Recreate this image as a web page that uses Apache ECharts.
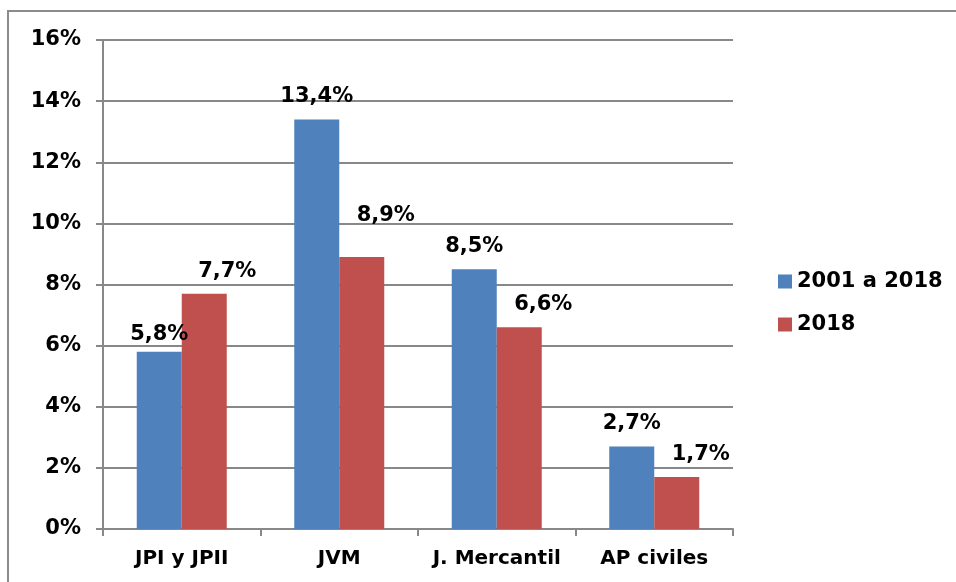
<!DOCTYPE html>
<html lang="es">
<head>
  <meta charset="UTF-8">
  <title>Chart</title>
  <style type="text/css">
    html, body { margin: 0; padding: 0; background: #fff; }
    #chart { width: 956px; height: 582px; }
  </style>
</head>
<body>
  <div id="chart"></div>
  <script src="https://cdn.jsdelivr.net/npm/echarts@6/dist/echarts.min.js"></script>
  <script>
    const categories = ['JPI y JPII', 'JVM', 'J. Mercantil', 'AP civiles']
    const seriesNames = ['2001 a 2018', '2018']
    const values2001to2018 = [5.8, 13.4, 8.5, 2.7]
    const values2018 = [7.7, 8.9, 6.6, 1.7]
    const yTicks = [0, 2, 4, 6, 8, 10, 12, 14, 16]

    const font = 'DejaVu Sans'
    const fmt = v => String(v).replace('.', ',') + '%'

    // label nudges seen in the original
    const blueOffsets = [[0, 5], [0, 0], [0, 0], [0, 0]]
    const redOffsets = [[23, 0], [24, -19], [24, 0], [24, 0]]

    const chart = echarts.init(document.getElementById('chart'))

    const labelStyle = {
      show: true, position: 'top', distance: 12,
      color: '#000', fontWeight: 'bold', fontSize: 21, fontFamily: font,
      formatter: p => fmt(p.value)
    }

    chart.setOption({
      animation: false,
      textStyle: { fontFamily: font },
      graphic: [{
        type: 'rect',
        shape: { x: 8, y: 11, width: 1000, height: 700 },
        style: { fill: 'none', stroke: '#8c8c8c', lineWidth: 2 },
        silent: true
      }],
      grid: { left: 103, right: 223, top: 40, bottom: 53 },
      legend: {
        orient: 'vertical',
        left: 773,
        top: 266,
        itemWidth: 14,
        itemHeight: 14,
        itemGap: 22,
        icon: 'rect',
        textStyle: { fontFamily: font, fontWeight: 'bold', fontSize: 21, color: '#000' },
        data: seriesNames
      },
      xAxis: {
        type: 'category',
        data: categories,
        axisLine: { lineStyle: { color: '#888', width: 2 } },
        axisTick: { show: true, length: 7, lineStyle: { color: '#888', width: 2 } },
        axisLabel: { interval: 0, margin: 20, color: '#000', fontWeight: 'bold', fontSize: 20, fontFamily: font }
      },
      yAxis: {
        type: 'value',
        min: yTicks[0],
        max: yTicks[yTicks.length - 1],
        interval: 2,
        axisLine: { show: true, lineStyle: { color: '#888', width: 2 } },
        axisTick: { show: true, length: 7, lineStyle: { color: '#888', width: 2 } },
        splitLine: { lineStyle: { color: '#888', width: 2 } },
        axisLabel: {
          margin: 22, color: '#000', fontWeight: 'bold', fontSize: 21, fontFamily: font,
          formatter: v => v + '%'
        }
      },
      series: [
        {
          name: seriesNames[0],
          type: 'bar',
          data: values2001to2018.map((v, i) => ({ value: v, label: { offset: blueOffsets[i] } })),
          barWidth: 45,
          barGap: '0%',
          itemStyle: { color: '#4f81bd' },
          label: labelStyle
        },
        {
          name: seriesNames[1],
          type: 'bar',
          data: values2018.map((v, i) => ({ value: v, label: { offset: redOffsets[i] } })),
          barWidth: 45,
          barGap: '0%',
          itemStyle: { color: '#c0504d' },
          label: labelStyle
        }
      ]
    })
  </script>
</body>
</html>
